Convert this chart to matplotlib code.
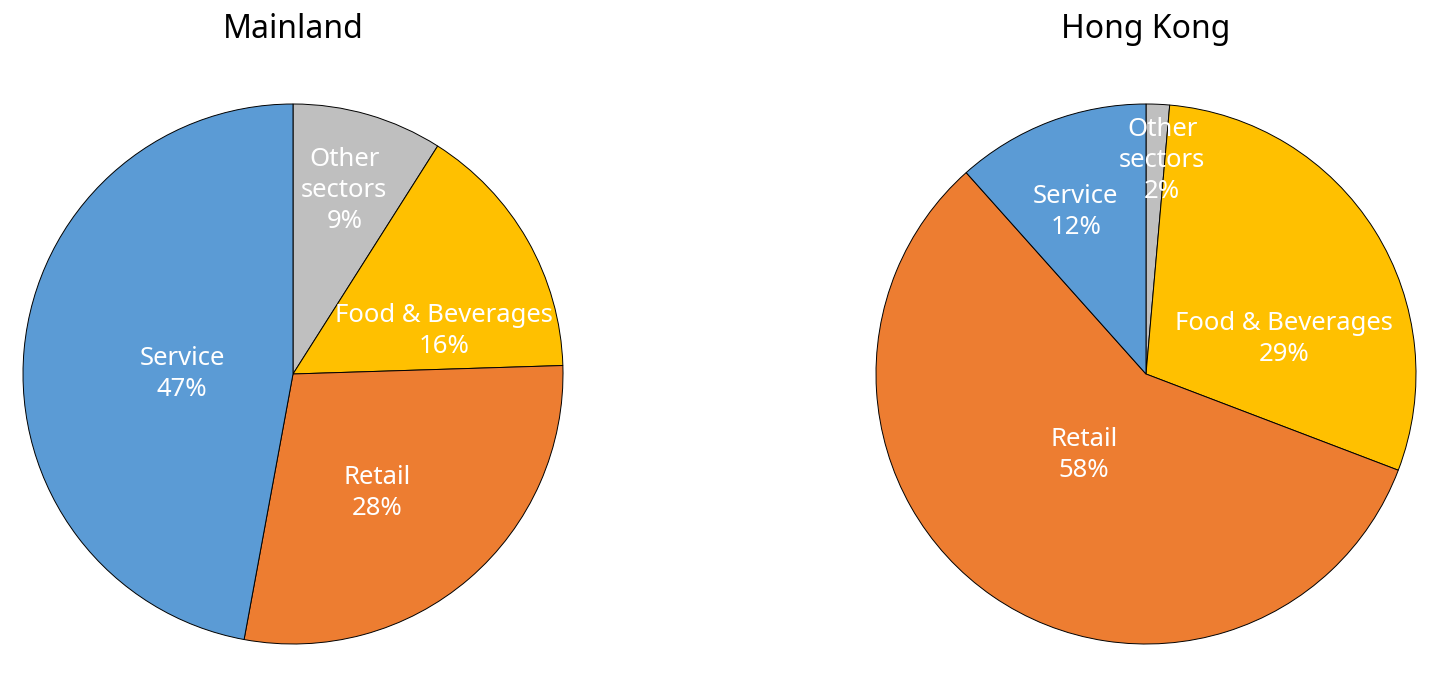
import matplotlib.pyplot as plt

plt.rcParams['font.family'] = ['Noto Sans', 'DejaVu Sans']

# slices go clockwise from 12 o'clock
sectors = ['Other\nsectors', 'Food & Beverages', 'Retail', 'Service']
mainland_share = [9.0, 15.5, 28.4, 47.1]
hongkong_share = [1.4, 29.4, 57.6, 11.6]
mainland_pct = ['9%', '16%', '28%', '47%']
hongkong_pct = ['2%', '29%', '58%', '12%']
colors = ['#BFBFBF', '#FFC000', '#ED7D31', '#5B9BD5']

# where each label sits, in units of the pie radius
mainland_label_xy = [(0.19, 0.68), (0.56, 0.16), (0.31, -0.44), (-0.41, 0.0)]
hongkong_label_xy = [(0.06, 0.79), (0.51, 0.13), (-0.23, -0.30), (-0.26, 0.60)]

W, H = 1445, 680
fig = plt.figure(figsize=(W / 100, H / 100), dpi=100)


def draw_pie(cx, cy, r, shares, pcts, label_xy, title):
    ax = fig.add_axes([(cx - r) / W, (H - cy - r) / H, 2 * r / W, 2 * r / H])
    ax.pie(shares, colors=colors, startangle=90, counterclock=False,
           wedgeprops=dict(edgecolor='black', linewidth=0.7))
    ax.set_xlim(-1.0, 1.0)
    ax.set_ylim(-1.0, 1.0)
    ax.set_aspect('equal')
    ax.axis('off')
    for name, pct, (x, y) in zip(sectors, pcts, label_xy):
        ax.text(x, y, name + '\n' + pct, ha='center', va='center',
                color='white', fontsize=18.5, linespacing=1.32)
    fig.text(cx / W, 1 - 30 / H, title, ha='center', va='center',
             fontsize=23, color='black')


draw_pie(293, 374, 270, mainland_share, mainland_pct, mainland_label_xy, 'Mainland')
draw_pie(1146, 374, 270, hongkong_share, hongkong_pct, hongkong_label_xy, 'Hong Kong')

fig.savefig('out.png', dpi=100, facecolor='white')
